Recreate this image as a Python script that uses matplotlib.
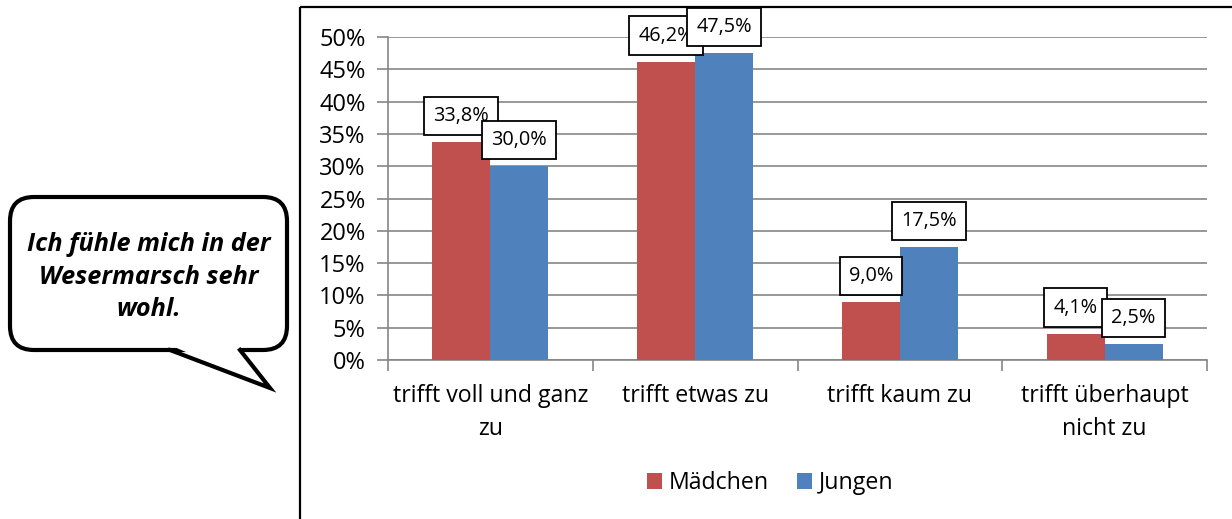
import matplotlib.pyplot as plt
from matplotlib.patches import FancyBboxPatch, Polygon, Rectangle
import numpy as np

plt.rcParams['font.family'] = ['Open Sans', 'DejaVu Sans']

categories = ["trifft voll und ganz\nzu", "trifft etwas zu", "trifft kaum zu", "trifft überhaupt\nnicht zu"]
maedchen = [33.8, 46.2, 9.0, 4.1]
jungen = [30.0, 47.5, 17.5, 2.5]
series_names = ["Mädchen", "Jungen"]
y_ticks = [0, 5, 10, 15, 20, 25, 30, 35, 40, 45, 50]
bubble_text = "Ich fühle mich in der\nWesermarsch sehr\nwohl."

red = "#C0504D"
blue = "#4F81BD"
grid_grey = "#868686"

W, H = 1232, 519
fig = plt.figure(figsize=(W / 100, H / 100), dpi=100)

# overlay in pixel coordinates for the chart frame and the speech bubble
deco = fig.add_axes([0, 0, 1, 1])
deco.set_xlim(0, W)
deco.set_ylim(H, 0)
deco.axis("off")

deco.add_patch(Rectangle((300, 7), 1200, 700, fill=False, edgecolor="black", lw=1.6))

box = FancyBboxPatch((10, 197), 277, 153, boxstyle="round,pad=0,rounding_size=24",
                     facecolor="white", edgecolor="black", lw=3)
deco.add_patch(box)
tail = [(170, 350), (270, 388), (240, 350)]
deco.add_patch(Polygon([(172, 346), (270, 388), (238, 346)], closed=True,
                       facecolor="white", edgecolor="none", zorder=3))
deco.plot([tail[0][0], tail[1][0], tail[2][0]], [tail[0][1], tail[1][1], tail[2][1]],
          color="black", lw=3, solid_joinstyle="miter", zorder=4)
deco.text(149, 277, bubble_text, ha="center", va="center", fontsize=18.2,
          fontweight="bold", fontstyle="italic", linespacing=1.42, zorder=5)

# chart area
ax = fig.add_axes([388 / W, 1 - 360 / H, (1207 - 388) / W, (360 - 37) / H])
ax.set_facecolor("none")
x = np.arange(len(categories))
bw = 0.283
bars_m = ax.bar(x - bw / 2, maedchen, bw, color=red, label=series_names[0], zorder=3)
bars_j = ax.bar(x + bw / 2, jungen, bw, color=blue, label=series_names[1], zorder=3)

ax.set_xlim(-0.5, len(categories) - 0.5)
ax.set_ylim(0, 50)
ax.set_yticks(y_ticks)
ax.set_yticklabels([f"{t}%" for t in y_ticks], fontsize=17)
ax.yaxis.grid(True, color=grid_grey, lw=1.2)
ax.set_axisbelow(True)

ax.set_xticks(np.arange(len(categories) + 1) - 0.5)
ax.set_xticklabels([])
ax.set_xticks(x, minor=True)
ax.set_xticklabels(categories, minor=True, fontsize=16.7, linespacing=1.5)
ax.tick_params(axis="x", which="minor", length=0, pad=17)
ax.tick_params(axis="x", which="major", length=8, color=grid_grey, width=1.2)
ax.tick_params(axis="y", length=8, color=grid_grey, width=1.2, pad=8)

for side in ["top", "right"]:
    ax.spines[side].set_visible(False)
for side in ["left", "bottom"]:
    ax.spines[side].set_color(grid_grey)
    ax.spines[side].set_linewidth(1.2)

for bars in (bars_m, bars_j):
    for b in bars:
        v = b.get_height()
        ax.annotate(f"{v:.1f}%".replace(".", ","),
                    (b.get_x() + b.get_width() / 2, v),
                    xytext=(0, 11.5), textcoords="offset points",
                    ha="center", va="bottom", fontsize=14.3, zorder=5,
                    bbox=dict(boxstyle="square,pad=0.46", facecolor="white",
                              edgecolor="black", lw=1.3))

leg = fig.legend(handles=[bars_m, bars_j], labels=series_names, loc="center",
                 bbox_to_anchor=(770 / W, 1 - 483 / H), ncol=2, frameon=False,
                 fontsize=16.7, handlelength=0.65, handleheight=0.65,
                 handletextpad=0.3, columnspacing=1.2)

fig.savefig("out.png", dpi=100)
